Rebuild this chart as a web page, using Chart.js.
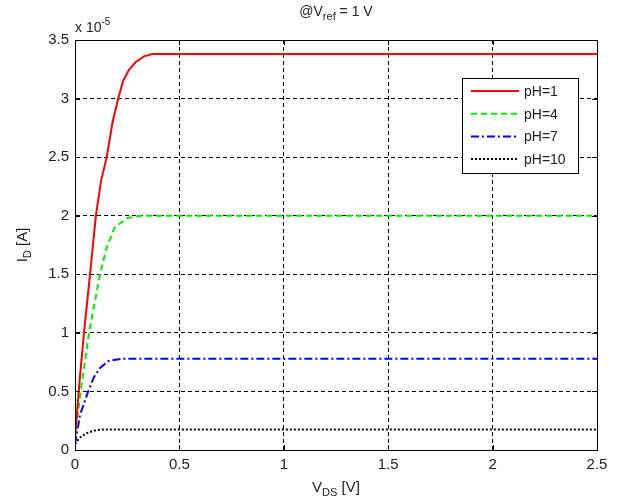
<!DOCTYPE html>
<html>
<head>
<meta charset="utf-8">
<script src="https://cdn.jsdelivr.net/npm/chart.js@4"></script>
<style>
  html, body { margin: 0; padding: 0; background: #fff; }
  #wrap { width: 624px; height: 496px; }
</style>
</head>
<body>
<div id="wrap"><canvas id="idChart" width="624" height="496"></canvas></div>
<script>
// drain current in units of 1e-5 A, drain voltage in V
const seriesLabels = ['pH=1', 'pH=4', 'pH=7', 'pH=10'];

const vdsPH1 = [0, 0.02, 0.043, 0.072, 0.1, 0.125, 0.152, 0.18, 0.207, 0.23, 0.26, 0.29, 0.33, 0.37, 2.5];
const idPH1  = [0.1, 0.55, 1.0, 1.5, 2.0, 2.3, 2.5, 2.8, 3.0, 3.15, 3.25, 3.31, 3.36, 3.38, 3.38];

const vdsPH4 = [0, 0.027, 0.067, 0.12, 0.15, 0.19, 0.25, 0.32, 2.5];
const idPH4  = [0.1, 0.5, 1.0, 1.5, 1.72, 1.9, 1.98, 2.0, 2.0];

const vdsPH7 = [0, 0.024, 0.063, 0.09, 0.12, 0.16, 0.23, 2.5];
const idPH7  = [0.05, 0.3, 0.5, 0.62, 0.7, 0.76, 0.78, 0.78];

const vdsPH10 = [0, 0.02, 0.05, 0.09, 0.13, 2.5];
const idPH10  = [0.05, 0.1, 0.14, 0.165, 0.175, 0.175];

const xTicks = [0, 0.5, 1, 1.5, 2, 2.5];
const yTicks = [0, 0.5, 1, 1.5, 2, 2.5, 3, 3.5];

const FONT = '"Liberation Sans", Arial, sans-serif';

function toPoints(xs, ys) {
    return xs.map((x, i) => ({ x: x, y: ys[i] }));
}

// text with subscript / superscript pieces
function drawRich(ctx, parts, x, y, align) {
    let total = 0;
    parts.forEach(p => {
        ctx.font = (p.size || 14) + 'px ' + FONT;
        total += ctx.measureText(p.t).width;
    });
    let cx = align === 'center' ? x - total / 2 : x;
    parts.forEach(p => {
        ctx.font = (p.size || 14) + 'px ' + FONT;
        ctx.fillText(p.t, cx, y + (p.dy || 0));
        cx += ctx.measureText(p.t).width;
    });
}

const decorPlugin = {
    id: 'decor',
    afterDraw(chart) {
        const ctx = chart.ctx;
        const a = chart.chartArea;
        ctx.save();
        // frame
        ctx.strokeStyle = '#000';
        ctx.lineWidth = 1;
        ctx.setLineDash([]);
        ctx.strokeRect(a.left + 0.5, a.top + 0.5, a.right - a.left, a.bottom - a.top);

        // inward tick marks
        const xs = chart.scales.x, ys = chart.scales.y;
        ctx.beginPath();
        xTicks.forEach(v => {
            const px = Math.round(xs.getPixelForValue(v)) + 0.5;
            ctx.moveTo(px, a.bottom); ctx.lineTo(px, a.bottom - 5);
            ctx.moveTo(px, a.top); ctx.lineTo(px, a.top + 5);
        });
        yTicks.forEach(v => {
            const py = Math.round(ys.getPixelForValue(v)) + 0.5;
            ctx.moveTo(a.left, py); ctx.lineTo(a.left + 5, py);
            ctx.moveTo(a.right, py); ctx.lineTo(a.right - 5, py);
        });
        ctx.stroke();

        ctx.fillStyle = '#222';
        ctx.textBaseline = 'alphabetic';
        const mid = (a.left + a.right) / 2;

        // title
        drawRich(ctx, [
            { t: '@V', size: 14 },
            { t: 'ref', size: 11, dy: 4 },
            { t: ' = 1 V', size: 14 }
        ], mid, 16, 'center');

        // exponent label
        drawRich(ctx, [
            { t: 'x 10', size: 14 },
            { t: '-5', size: 10, dy: -7 }
        ], a.left, 32, 'left');

        // x axis title
        drawRich(ctx, [
            { t: 'V', size: 15 },
            { t: 'DS', size: 11, dy: 4 },
            { t: ' [V]', size: 15 }
        ], mid, 492, 'center');

        // y axis title
        ctx.translate(27, (a.top + a.bottom) / 2);
        ctx.rotate(-Math.PI / 2);
        drawRich(ctx, [
            { t: 'I', size: 15 },
            { t: 'D', size: 11, dy: 4 },
            { t: ' [A]', size: 15 }
        ], 0, 0, 'center');
        ctx.setTransform(1, 0, 0, 1, 0, 0);

        // legend box inside the axes
        const bx = 462, by = 78, bw = 116, bh = 95;
        ctx.fillStyle = '#fff';
        ctx.fillRect(bx, by, bw, bh);
        ctx.strokeStyle = '#000';
        ctx.strokeRect(bx + 0.5, by + 0.5, bw, bh);
        chart.data.datasets.forEach((ds, i) => {
            const ry = by + 13 + i * 22.7;
            ctx.strokeStyle = ds.borderColor;
            ctx.lineWidth = ds.borderWidth;
            ctx.setLineDash(ds.borderDash || []);
            ctx.beginPath();
            ctx.moveTo(bx + 9, ry);
            ctx.lineTo(bx + 57, ry);
            ctx.stroke();
            ctx.setLineDash([]);
            ctx.fillStyle = '#222';
            ctx.font = '14px ' + FONT;
            ctx.textBaseline = 'middle';
            ctx.fillText(ds.label, bx + 62, ry + 1);
        });
        ctx.restore();
    }
};

function initIdChart(canvasId) {
    const ctx = document.getElementById(canvasId);
    if (!ctx) return;

    new Chart(ctx, {
        type: 'scatter',
        data: {
            datasets: [
                {
                    label: seriesLabels[0],
                    data: toPoints(vdsPH1, idPH1),
                    borderColor: '#ff0000',
                    borderWidth: 2,
                    showLine: true,
                    pointRadius: 0,
                },
                {
                    label: seriesLabels[1],
                    data: toPoints(vdsPH4, idPH4),
                    borderColor: '#00ee00',
                    borderWidth: 2,
                    borderDash: [6, 4],
                    showLine: true,
                    pointRadius: 0,
                },
                {
                    label: seriesLabels[2],
                    data: toPoints(vdsPH7, idPH7),
                    borderColor: '#0000ff',
                    borderWidth: 2,
                    borderDash: [8, 3, 2, 3],
                    showLine: true,
                    pointRadius: 0,
                },
                {
                    label: seriesLabels[3],
                    data: toPoints(vdsPH10, idPH10),
                    borderColor: '#000000',
                    borderWidth: 2,
                    borderDash: [2, 2],
                    showLine: true,
                    pointRadius: 0,
                }
            ]
        },
        options: {
            responsive: false,
            animation: false,
            layout: { padding: { left: 0, right: 27, top: 40, bottom: 0 } },
            plugins: {
                legend: { display: false },
                tooltip: { enabled: false },
            },
            scales: {
                x: {
                    type: 'linear',
                    min: 0,
                    max: 2.5,
                    afterBuildTicks: s => { s.ticks = xTicks.map(v => ({ value: v })); },
                    afterFit: s => { s.height = 46; },
                    grid: { color: '#000', lineWidth: 1, drawTicks: false },
                    border: { display: true, color: '#000', dash: [4, 3] },
                    ticks: {
                        color: '#222',
                        padding: 6,
                        font: { family: FONT, size: 15 },
                        callback: v => String(v)
                    }
                },
                y: {
                    type: 'linear',
                    min: 0,
                    max: 3.5,
                    afterBuildTicks: s => { s.ticks = yTicks.map(v => ({ value: v })); },
                    afterFit: s => { s.width = 75; },
                    grid: { color: '#000', lineWidth: 1, drawTicks: false },
                    border: { display: true, color: '#000', dash: [4, 3] },
                    ticks: {
                        color: '#222',
                        padding: 6,
                        font: { family: FONT, size: 15 },
                        callback: v => String(v)
                    }
                }
            }
        },
        plugins: [decorPlugin]
    });
}

initIdChart('idChart');
</script>
</body>
</html>
